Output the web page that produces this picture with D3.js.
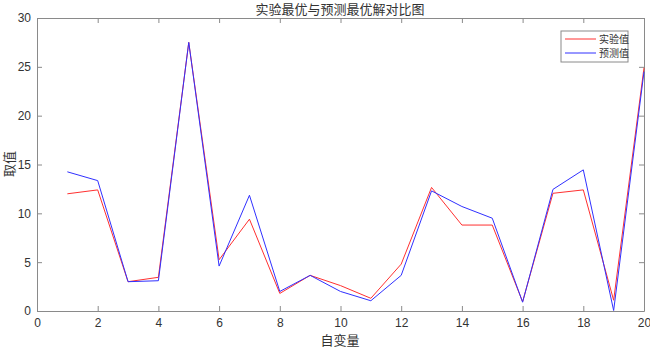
<!DOCTYPE html>
<html><head><meta charset="utf-8">
<script src="https://cdn.jsdelivr.net/npm/d3@7"></script>
<style>body{margin:0;background:#fff}svg{display:block}</style>
</head><body>
<script>
const xs = [1,2,3,4,5,6,7,8,9,10,11,12,13,14,15,16,17,18,19,20];
const experimental = [12.0,12.4,3.0,3.45,27.5,5.25,9.4,1.8,3.65,2.6,1.3,4.8,12.65,8.8,8.8,0.95,12.05,12.4,1.1,24.9];
const predicted    = [14.25,13.35,3.0,3.1,27.5,4.6,11.85,2.0,3.65,2.0,1.05,3.65,12.3,10.7,9.5,0.9,12.45,14.45,0.05,24.5];
const xTicks = [0,2,4,6,8,10,12,14,16,18,20];
const yTicks = [0,5,10,15,20,25,30];
const seriesNames = ["实验值","预测值"];
const title = "实验最优与预测最优解对比图";
const xLabel = "自变量";
const yLabel = "取值";

const W=650,H=351, L=37, R=644, T=18, B=311;
const svg=d3.select("body").append("svg").attr("width",W).attr("height",H);
const x=d3.scaleLinear().domain([0,20]).range([L,R]);
const y=d3.scaleLinear().domain([0,30]).range([B,T]);
const axisCol="#8a8a8a", textCol="#333";
const tickFont="Liberation Sans, Arial, sans-serif";
const cjk="Noto Sans CJK SC, sans-serif";

function styleAxis(g){g.select(".domain").attr("stroke",axisCol);g.selectAll(".tick line").attr("stroke",axisCol);g.selectAll(".tick text").attr("fill",textCol).attr("font-family",tickFont).attr("font-size",12);}
svg.append("g").attr("transform",`translate(0,${B})`).call(d3.axisBottom(x).tickValues(xTicks).tickSizeInner(-5).tickSizeOuter(0).tickPadding(7)).call(styleAxis);
svg.append("g").attr("transform",`translate(0,${T})`).call(d3.axisTop(x).tickValues(xTicks).tickSizeInner(-5).tickSizeOuter(0).tickFormat("")).call(styleAxis);
svg.append("g").attr("transform",`translate(${L},0)`).call(d3.axisLeft(y).tickValues(yTicks).tickSizeInner(-5).tickSizeOuter(0).tickPadding(6)).call(styleAxis);
svg.append("g").attr("transform",`translate(${R},0)`).call(d3.axisRight(y).tickValues(yTicks).tickSizeInner(-5).tickSizeOuter(0).tickFormat("")).call(styleAxis);

const line=d3.line().x((d,i)=>x(xs[i])).y(d=>y(d));
const colors=["#ff3030","#3030ff"];
[experimental,predicted].forEach((s,k)=>{
  svg.append("path").datum(s).attr("d",line).attr("fill","none").attr("stroke",colors[k]).attr("stroke-width",1);
});

svg.append("text").attr("x",340).attr("y",14).attr("text-anchor","middle").attr("font-family",cjk).attr("font-size",13).attr("fill",textCol).text(title);
svg.append("text").attr("x",340).attr("y",345).attr("text-anchor","middle").attr("font-family",cjk).attr("font-size",13).attr("fill",textCol).text(xLabel);
svg.append("text").attr("transform","translate(14,164) rotate(-90)").attr("text-anchor","middle").attr("font-family",cjk).attr("font-size",13).attr("fill",textCol).text(yLabel);

const lg=svg.append("g");
lg.append("rect").attr("x",561).attr("y",31).attr("width",67).attr("height",31).attr("fill","#fff").attr("stroke",axisCol);
seriesNames.forEach((n,k)=>{
  const yy=39+k*14;
  lg.append("line").attr("x1",565).attr("x2",596).attr("y1",yy).attr("y2",yy).attr("stroke",colors[k]).attr("stroke-width",1);
  lg.append("text").attr("x",599).attr("y",yy+3.5).attr("font-family",cjk).attr("font-size",10).attr("fill",textCol).text(n);
});
</script>
</body></html>
